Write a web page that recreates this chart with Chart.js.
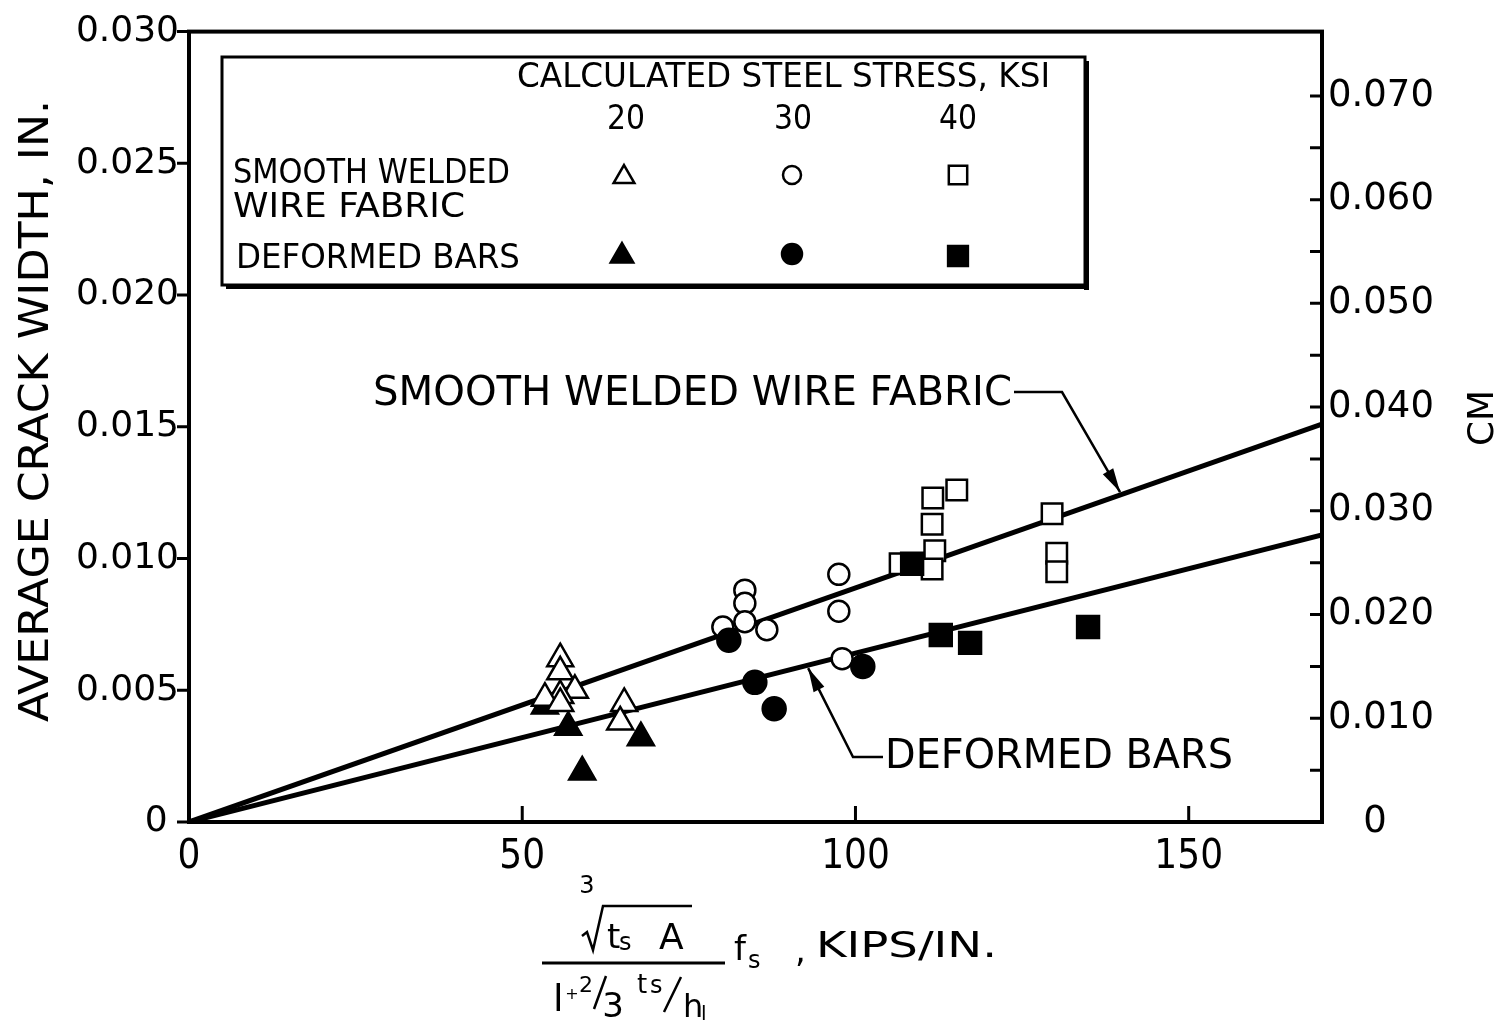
<!DOCTYPE html>
<html>
<head>
<meta charset="utf-8">
<title>Average crack width</title>
<script src="https://cdn.jsdelivr.net/npm/chart.js@4.4.0/dist/chart.umd.min.js"></script>
<style>
  html, body { margin: 0; padding: 0; background: #fff; }
  canvas { display: block; }
</style>
</head>
<body>
<canvas id="crack-chart" width="1501" height="1021"></canvas>
<script>
// Measured points: [x value (kips/in), average crack width (in)]
const smooth20 = [[55.7, 0.0062], [55.7, 0.0057], [57.9, 0.0050], [55.7, 0.0048], [53.4, 0.0047], [55.7, 0.0045], [65.3, 0.0045], [64.7, 0.0038]];
const smooth30 = [[83.4, 0.0088], [83.4, 0.0083], [83.4, 0.0076], [80.1, 0.0074], [86.7, 0.0073], [97.5, 0.0094], [97.5, 0.0080], [98.0, 0.0062]];
const smooth40 = [[111.6, 0.0123], [115.2, 0.0126], [111.5, 0.0113], [111.9, 0.0103], [111.5, 0.0096], [106.7, 0.0098], [129.5, 0.0117], [130.2, 0.0102], [130.2, 0.0095]];
const deformed20 = [[53.4, 0.0044], [56.9, 0.0036], [67.8, 0.0032], [59.0, 0.0019]];
const deformed30 = [[81.0, 0.0069], [84.9, 0.0053], [87.8, 0.0043], [101.1, 0.0059]];
const deformed40 = [[108.5, 0.0098], [112.8, 0.0071], [117.2, 0.0068], [134.9, 0.0074]];

// fitted lines through the origin
const smoothLine = [[0, 0], [170, 0.0151]];
const deformedLine = [[0, 0], [170, 0.0109]];

// axes
const xRange = [0, 170];
const yRange = [0, 0.030];       // inches
const IN_TO_CM = 2.54;
const stressLabels = ['20', '30', '40'];

const ink = '#000';
const wide = '"DejaVu Sans", sans-serif';
const narrow = '"Liberation Sans Narrow", "DejaVu Sans Condensed", "DejaVu Sans", sans-serif';

const toXY = pts => pts.map(([x, y]) => ({ x, y }));

// text squeezed/stretched to a measured width (x = start, y = middle)
function fitText(ctx, text, x, y, w, size, family, rot) {
    ctx.save();
    ctx.font = size + 'px ' + family;
    ctx.textBaseline = 'middle';
    ctx.textAlign = 'left';
    ctx.fillStyle = ink;
    ctx.translate(x, y);
    if (rot) ctx.rotate(rot);
    const m = ctx.measureText(text).width;
    ctx.scale(w / m, 1);
    ctx.fillText(text, 0, 0);
    ctx.restore();
}

function plainText(ctx, text, x, y, size, family, align) {
    ctx.save();
    ctx.font = size + 'px ' + family;
    ctx.textBaseline = 'alphabetic';
    ctx.textAlign = align || 'left';
    ctx.fillStyle = ink;
    ctx.fillText(text, x, y);
    ctx.restore();
}

function marker(ctx, style, x, y, r, filled) {
    ctx.save();
    ctx.lineWidth = 2.5;
    ctx.strokeStyle = ink;
    ctx.fillStyle = filled ? ink : '#fff';
    ctx.beginPath();
    if (style === 'triangle') {
        for (let i = 0; i < 3; i++) {
            const a = i * 2 * Math.PI / 3;
            const px = x + Math.sin(a) * r, py = y - Math.cos(a) * r;
            i ? ctx.lineTo(px, py) : ctx.moveTo(px, py);
        }
        ctx.closePath();
    } else if (style === 'circle') {
        ctx.arc(x, y, r, 0, Math.PI * 2);
    } else {
        const s = r * Math.SQRT1_2;
        ctx.rect(x - s, y - s, 2 * s, 2 * s);
    }
    ctx.fill();
    ctx.stroke();
    ctx.restore();
}

function leader(ctx, pts) {
    ctx.save();
    ctx.strokeStyle = ink;
    ctx.fillStyle = ink;
    ctx.lineWidth = 2.5;
    ctx.beginPath();
    pts.forEach((p, i) => i ? ctx.lineTo(p[0], p[1]) : ctx.moveTo(p[0], p[1]));
    ctx.stroke();
    // arrow head at the last point
    const [x1, y1] = pts[pts.length - 2], [x2, y2] = pts[pts.length - 1];
    const ang = Math.atan2(y2 - y1, x2 - x1);
    ctx.translate(x2, y2);
    ctx.rotate(ang);
    ctx.beginPath();
    ctx.moveTo(0, 0);
    ctx.lineTo(-24, -6);
    ctx.lineTo(-24, 6);
    ctx.closePath();
    ctx.fill();
    ctx.restore();
}

const decorations = {
    id: 'decorations',
    beforeDraw(chart) {
        const ctx = chart.ctx;
        ctx.save();
        ctx.fillStyle = '#fff';
        ctx.fillRect(0, 0, chart.width, chart.height);
        ctx.restore();
    },
    afterDraw(chart) {
        const ctx = chart.ctx;
        const a = chart.chartArea;
        const xs = chart.scales.x, ys = chart.scales.y, y2 = chart.scales.y2;

        ctx.save();
        ctx.strokeStyle = ink;
        ctx.lineWidth = 3;
        ctx.beginPath();
        ys.ticks.forEach(t => {
            const p = ys.getPixelForValue(t.value);
            ctx.moveTo(a.left - 12, p); ctx.lineTo(a.left, p);
        });
        xs.ticks.forEach(t => {
            if (t.value === 0) return;
            const p = xs.getPixelForValue(t.value);
            ctx.moveTo(p, a.bottom - 16); ctx.lineTo(p, a.bottom);
        });
        y2.ticks.forEach(t => {
            const m = Math.round(t.value * 1000);
            if (m === 0 || m > 72) return;
            const p = y2.getPixelForValue(t.value);
            ctx.moveTo(a.right - 12, p); ctx.lineTo(a.right, p);
        });
        ctx.stroke();
        ctx.lineWidth = 4;
        ctx.strokeRect(a.left, a.top, a.right - a.left, a.bottom - a.top);
        ctx.restore();

        // axis titles
        fitText(ctx, 'AVERAGE CRACK WIDTH, IN.', 38, 722, 622, 40, narrow, -Math.PI / 2);
        fitText(ctx, 'CM', 1484, 446, 56, 36, wide, -Math.PI / 2);

        // x title: cube root fraction
        ctx.save();
        ctx.strokeStyle = ink;
        ctx.lineWidth = 3;
        ctx.beginPath();
        ctx.moveTo(542, 963); ctx.lineTo(725, 963);
        ctx.stroke();
        ctx.lineWidth = 2.5;
        ctx.beginPath();
        ctx.moveTo(582, 936); ctx.lineTo(587, 932); ctx.lineTo(593, 950);
        ctx.lineTo(603, 906); ctx.lineTo(692, 906);
        ctx.stroke();
        ctx.beginPath();
        ctx.moveTo(594, 1009); ctx.lineTo(606, 976);
        ctx.moveTo(664, 1012); ctx.lineTo(681, 977);
        ctx.stroke();
        ctx.restore();
        plainText(ctx, '3', 587, 893, 24, wide, 'center');
        plainText(ctx, 't', 607, 948, 34, wide);
        plainText(ctx, 's', 619, 950, 24, wide);
        plainText(ctx, 'A', 659, 949, 36, wide);
        plainText(ctx, 'l', 553, 1011, 38, wide);
        plainText(ctx, '+', 572, 999, 16, wide, 'center');
        plainText(ctx, '2', 586, 992, 22, wide, 'center');
        plainText(ctx, '3', 613, 1017, 34, wide, 'center');
        plainText(ctx, 't', 637, 993, 26, wide);
        plainText(ctx, 's', 650, 993, 24, wide);
        plainText(ctx, 'h', 683, 1017, 32, wide);
        plainText(ctx, 'l', 701, 1020, 20, wide);
        plainText(ctx, 'f', 734, 960, 34, wide);
        plainText(ctx, 's', 748, 968, 24, wide);
        plainText(ctx, ',', 795, 962, 34, wide);
        fitText(ctx, 'KIPS/IN.', 816, 948, 181, 36, wide);

        // line labels with leaders
        fitText(ctx, 'SMOOTH WELDED WIRE FABRIC', 373, 395, 639, 40, wide);
        fitText(ctx, 'DEFORMED BARS', 885, 758, 348, 40, wide);
        const sSlope = smoothLine[1][1] / smoothLine[1][0];
        const dSlope = deformedLine[1][1] / deformedLine[1][0];
        const sTip = [xs.getPixelForValue(139.7), ys.getPixelForValue(139.7 * sSlope) - 3];
        const dTip = [xs.getPixelForValue(92.9), ys.getPixelForValue(92.9 * dSlope) + 3];
        leader(ctx, [[1014, 392], [1062, 392], sTip]);
        leader(ctx, [[883, 757], [853, 757], dTip]);

        // legend box
        ctx.save();
        ctx.strokeStyle = ink;
        ctx.fillStyle = ink;
        ctx.lineWidth = 3;
        ctx.strokeRect(222, 57, 863, 228);
        ctx.fillRect(1084, 61, 5, 229);
        ctx.fillRect(226, 284, 863, 5);
        ctx.restore();
        fitText(ctx, 'CALCULATED STEEL STRESS, KSI', 517, 78, 533, 33, narrow);
        const cols = [626, 793, 958];
        stressLabels.forEach((s, i) => fitText(ctx, s, cols[i] - 19, 120, 38, 33, narrow));
        fitText(ctx, 'SMOOTH WELDED', 233, 174, 277, 33, narrow);
        fitText(ctx, 'WIRE FABRIC', 233, 208, 232, 33, narrow);
        fitText(ctx, 'DEFORMED BARS', 236, 259, 284, 33, narrow);
        marker(ctx, 'triangle', cols[0] - 2, 177, 12, false);
        marker(ctx, 'circle', cols[1] - 1, 175, 9, false);
        marker(ctx, 'rect', cols[2], 175, 13, false);
        marker(ctx, 'triangle', cols[0] - 4, 256, 13, true);
        marker(ctx, 'circle', cols[1] - 1, 254, 10, true);
        marker(ctx, 'rect', cols[2], 256, 14, true);
    }
};

const pointSet = (pts, style, radius, filled, order) => ({
    data: toXY(pts),
    pointStyle: style,
    pointRadius: radius,
    pointBorderWidth: 2.5,
    pointBorderColor: ink,
    pointBackgroundColor: filled ? ink : '#fff',
    showLine: false,
    order: order
});

const lineSet = pts => ({
    data: toXY(pts),
    showLine: true,
    borderColor: ink,
    borderWidth: 5,
    pointRadius: 0,
    order: 10
});

new Chart(document.getElementById('crack-chart'), {
    type: 'scatter',
    data: {
        datasets: [
            lineSet(smoothLine),
            lineSet(deformedLine),
            pointSet(deformed20, 'triangle', 15, true, 2),
            pointSet(smooth20, 'triangle', 15, false, 1),
            pointSet(smooth30, 'circle', 10.5, false, 2),
            pointSet(deformed30, 'circle', 11.5, true, 1),
            pointSet(smooth40, 'rect', 14.5, false, 2),
            pointSet(deformed40, 'rect', 15.5, true, 1)
        ]
    },
    options: {
        responsive: false,
        animation: false,
        layout: { padding: { top: 27, left: 0, right: 0, bottom: 0 } },
        plugins: { legend: { display: false }, tooltip: { enabled: false } },
        scales: {
            x: {
                type: 'linear',
                min: xRange[0],
                max: xRange[1],
                grid: { display: false, drawTicks: false },
                border: { display: false },
                ticks: {
                    stepSize: 50,
                    includeBounds: false,
                    padding: 12,
                    color: ink,
                    font: { family: narrow, size: 40 }
                },
                afterFit: s => { s.width = s.width; s.height = 1021 - 822; }
            },
            y: {
                type: 'linear',
                position: 'left',
                min: yRange[0],
                max: yRange[1],
                grid: { display: false, drawTicks: false },
                border: { display: false },
                ticks: {
                    stepSize: 0.005,
                    padding: 10,
                    color: ink,
                    font: { family: wide, size: 36 },
                    callback: v => Math.round(v * 1000) === 0 ? '0 ' : v.toFixed(3)
                },
                afterFit: s => { s.width = 189; }
            },
            y2: {
                type: 'linear',
                position: 'right',
                min: yRange[0] * IN_TO_CM,
                max: yRange[1] * IN_TO_CM,
                grid: { display: false, drawTicks: false },
                border: { display: false },
                ticks: {
                    stepSize: 0.005,
                    includeBounds: false,
                    padding: 6,
                    color: ink,
                    font: { family: wide, size: 37 },
                    callback: v => {
                        const m = Math.round(v * 1000);
                        if (m === 0) return '   0';
                        return (m % 10 === 0 && m <= 70) ? (m / 1000).toFixed(3) : '';
                    }
                },
                afterFit: s => { s.width = 1501 - 1322; }
            }
        }
    },
    plugins: [decorations]
});
</script>
</body>
</html>
